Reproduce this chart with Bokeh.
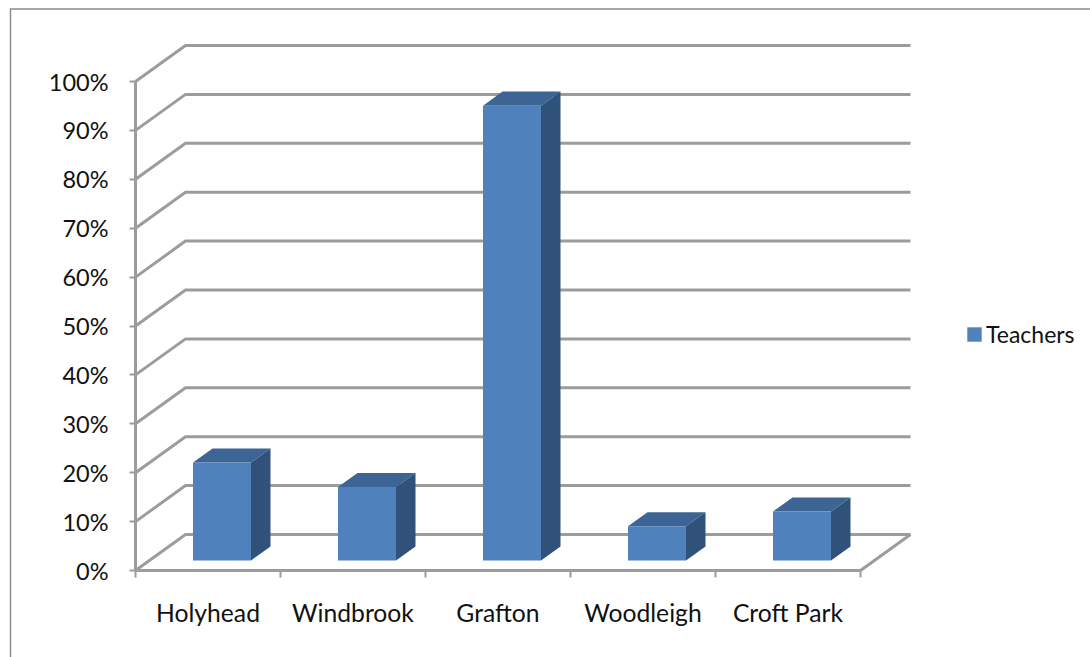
from bokeh.embed import file_html
from bokeh.resources import INLINE
from bokeh.plotting import figure
from bokeh.models import (LinearAxis, FixedTicker, Range1d, Legend, LegendItem,
                          ColumnDataSource)

categories = ["Holyhead", "Windbrook", "Grafton", "Woodleigh", "Croft Park"]
series_name = "Teachers"
teachers = [20, 15, 93, 7, 10]
y_ticks = [0, 10, 20, 30, 40, 50, 60, 70, 80, 90, 100]

FONT = "Lato"
W, H = 1090, 657
GRID = "#9c9c9c"
FRONT, TOP, SIDE = "#4f81bd", "#3c6494", "#30527a"

# scale: pixels per category / per percent, location of the origin inside the figure
PX_CAT, PX_PCT = 145.0, 4.89
ORIGIN_X, ORIGIN_Y = 135.0, 570.0

x_range = Range1d(-ORIGIN_X / PX_CAT, (W - ORIGIN_X) / PX_CAT)
y_range = Range1d(-(H - ORIGIN_Y) / PX_PCT, ORIGIN_Y / PX_PCT)

p = figure(width=W, height=H, x_range=x_range, y_range=y_range, x_axis_type=None, y_axis_type=None,
           output_backend="svg", toolbar_location=None, min_border=0,
           background_fill_color="white", border_fill_color="white", outline_line_color=None)
p.grid.visible = False

# chart-area border: only its left and top edges fall inside the picture
border_x = (10 - ORIGIN_X) / PX_CAT
border_y = (ORIGIN_Y - 8.5) / PX_PCT
p.line([border_x, border_x, x_range.end], [y_range.start, border_y, border_y],
       line_color="#8c8c8c", line_width=1.5, line_join="miter")

# oblique depth of the 3-D box
dx = 50.0 / PX_CAT
dy = 36.0 / PX_PCT
n = len(categories)

# walls
xs = [[0, dx, n + dx] for _ in y_ticks]
ys = [[v, v + dy, v + dy] for v in y_ticks]
xs.append([n, n + dx])
ys.append([0, dy])
p.multi_line(xs, ys, line_color=GRID, line_width=3, line_join="miter")

# bars
bar_w = 0.4
d0, d1 = 0.28, 0.67
front = ColumnDataSource(dict(
    left=[i + 0.5 - bar_w / 2 + d0 * dx for i in range(n)],
    right=[i + 0.5 + bar_w / 2 + d0 * dx for i in range(n)],
    bottom=[d0 * dy] * n,
    top=[v + d0 * dy for v in teachers],
))
top_x, top_y, side_x, side_y = [], [], [], []
for i, v in enumerate(teachers):
    l = i + 0.5 - bar_w / 2
    r = i + 0.5 + bar_w / 2
    top_x.append([l + d0 * dx, r + d0 * dx, r + d1 * dx, l + d1 * dx])
    top_y.append([v + d0 * dy, v + d0 * dy, v + d1 * dy, v + d1 * dy])
    side_x.append([r + d0 * dx, r + d1 * dx, r + d1 * dx, r + d0 * dx])
    side_y.append([d0 * dy, d1 * dy, v + d1 * dy, v + d0 * dy])
p.patches(top_x, top_y, fill_color=TOP, line_color=None)
p.patches(side_x, side_y, fill_color=SIDE, line_color=None)
bars = p.quad(source=front, left="left", right="right", bottom="bottom", top="top",
              fill_color=FRONT, line_color=None)

# y axis
ya = LinearAxis(ticker=FixedTicker(ticks=y_ticks), fixed_location=0, bounds=(0, 100),
                major_label_overrides={v: f"{v}%" for v in y_ticks})
ya.axis_line_color = GRID
ya.axis_line_width = 3
ya.major_tick_line_color = GRID
ya.major_tick_line_width = 2
ya.major_tick_out = 6
ya.major_tick_in = 0
ya.minor_tick_line_color = None
ya.major_label_standoff = 21
ya.major_label_text_font = FONT
ya.major_label_text_font_size = "23.5px"
ya.major_label_text_color = "#111111"
p.add_layout(ya, "left")

# x axis: labels on the category centres, tick marks on the boundaries
centres = [i + 0.5 for i in range(n)]
xa = LinearAxis(ticker=FixedTicker(ticks=centres, minor_ticks=list(range(n + 1))),
                fixed_location=0, bounds=(0, n),
                major_label_overrides={c: lab for c, lab in zip(centres, categories)})
xa.axis_line_color = GRID
xa.axis_line_width = 3
xa.major_tick_line_color = None
xa.minor_tick_line_color = GRID
xa.minor_tick_line_width = 2
xa.minor_tick_out = 7
xa.minor_tick_in = 0
xa.major_label_standoff = 20
xa.major_label_text_font = FONT
xa.major_label_text_font_size = "24.7px"
xa.major_label_text_color = "#111111"
p.add_layout(xa, "below")

# legend
legend = Legend(items=[LegendItem(label=series_name, renderers=[bars])],
                location=(965, 309), orientation="vertical", border_line_color=None,
                background_fill_alpha=0, margin=0, padding=0, spacing=0,
                glyph_width=18, glyph_height=18, label_standoff=3,
                label_text_font=FONT, label_text_font_size="23px", label_text_color="#111111",
                label_height=18)
p.add_layout(legend)

open("out.html", "w").write(file_html(p, INLINE))
